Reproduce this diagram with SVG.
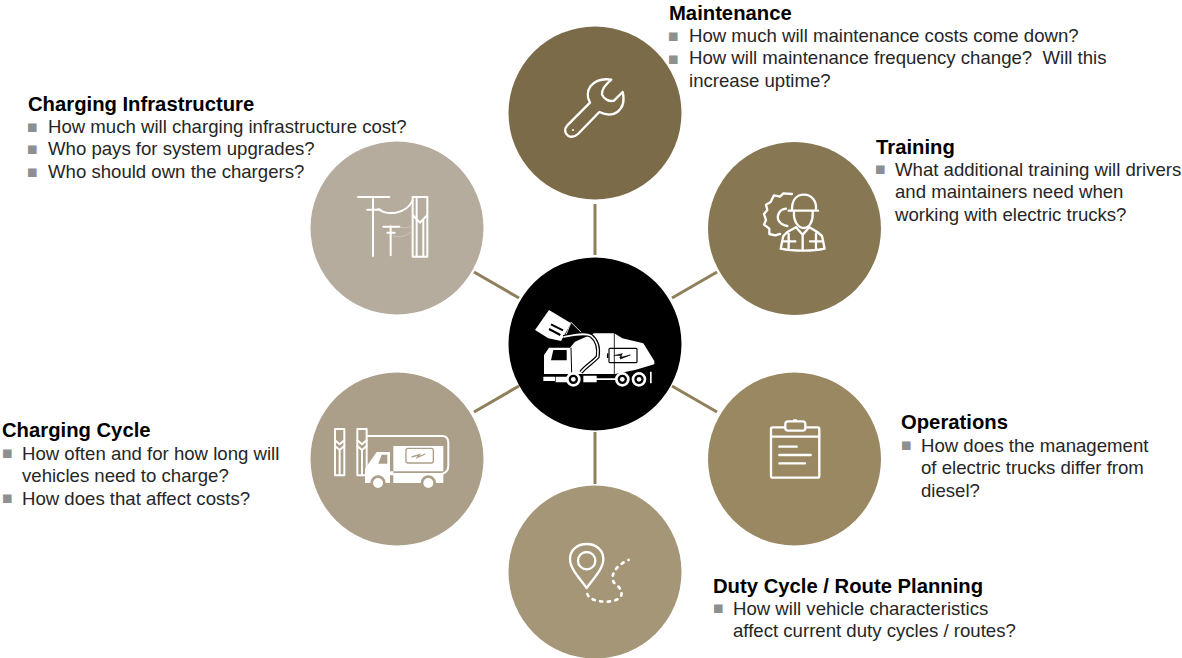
<svg xmlns="http://www.w3.org/2000/svg" width="1182" height="658" viewBox="0 0 1182 658">
<style>
text{font-family:"Liberation Sans",Arial,sans-serif;font-size:18.6px;fill:#262626;white-space:pre}
.h{font-weight:700;font-size:20.25px;fill:#000}
.b{font-size:17.5px;fill:#8c9090}
.i{fill:none;stroke:#fff;stroke-width:7;stroke-linecap:round;stroke-linejoin:round}
.t{stroke-width:6}
.f{fill:#fff}
#connectors line{stroke:#8f7f5a;stroke-width:3}
</style>
<rect width="1182" height="658" fill="#fff"/>
<g id="connectors">
<line x1="595" y1="204" x2="595" y2="255"/>
<line x1="595" y1="432" x2="595" y2="484"/>
<line x1="474" y1="272" x2="519" y2="298"/>
<line x1="717" y1="272" x2="672" y2="298"/>
<line x1="474" y1="412" x2="519" y2="386"/>
<line x1="717" y1="412" x2="672" y2="386"/>
</g>
<g id="hub">
<circle cx="595" cy="344" r="86.5" fill="#000"/>
<g transform="translate(535 305) scale(.3333)">
<path class="f" d="M42 15L108 55 78 108 40 100 0 75Z"/>
<path d="M48 58L84 76M42 72L76 90" stroke="#000" stroke-width="6"/>
<path d="M108 52L145 88M108 52L92 92" fill="none" stroke="#ddd" stroke-width="3"/>
<path class="f" d="M27 205V150L42 128H105L120 110 178 85H238L262 100 325 115 358 168V178L300 195 240 207H27Z"/>
<path d="M55 135H95V166H48Z" fill="#000"/>
<path d="M108 128L110 205" stroke="#000" stroke-width="3"/>
<path d="M85 96C115 90 150 82 168 92 186 106 192 130 188 156 170 175 150 185 138 202" fill="none" stroke="#000" stroke-width="12"/>
<path d="M85 96C115 90 150 82 168 92 186 106 192 130 188 156 170 175 150 185 138 202" fill="none" stroke="#fff" stroke-width="5"/>
<path d="M238 82V207" stroke="#000" stroke-width="2.5"/>
<rect x="222" y="130" width="84" height="43" rx="3" fill="none" stroke="#000" stroke-width="3.5"/>
<path d="M218 145V159" stroke="#000" stroke-width="4"/>
<path d="M236 152L262 146 254 158 286 150 256 162 260 152" fill="#000" stroke="#000" stroke-width="2"/>
<path class="f" d="M25 215H60V228H25ZM62 215H100V232H62ZM145 212H185V232H145ZM185 220H245V225H185ZM345 200H350V235H345Z"/>
<g fill="#000" stroke="#fff" stroke-width="8"><circle cx="115" cy="223" r="18"/><circle cx="262" cy="223" r="18"/><circle cx="312" cy="223" r="18"/></g>
<g class="f"><circle cx="115" cy="223" r="7"/><circle cx="262" cy="223" r="7"/><circle cx="312" cy="223" r="7"/></g>
</g>
</g>
<g id="maintenance">
<circle cx="595" cy="113" r="86.5" fill="#7b6b49"/>
<path transform="translate(540 70) scale(.3333)" class="i" d="M214 29C190 25 168 30 152 48 140 64 142 84 150 98L82 166C72 178 74 190 84 197 94 203 104 201 114 192L178 126C195 134 216 138 232 126 250 112 254 90 248 66L222 92C208 96 192 88 186 74 184 62 196 44 214 29Z"/>
<circle cx="573" cy="130" r="1" fill="#fff"/>
<text class="h" x="669" y="20">Maintenance</text>
<text class="b" x="668" y="42">■</text><text x="689" y="42">How much will maintenance costs come down?</text>
<text class="b" x="668" y="65">■</text><text x="689" y="64">How will maintenance frequency change?  Will this</text>
<text x="689" y="87">increase uptime?</text>
</g>
<g id="training">
<circle cx="794.5" cy="228.5" r="86.5" fill="#877753"/>
<g transform="translate(730 170) scale(.3333)" class="i">
<path d="M186 72L160 70 150 80 132 76 122 96 108 104 112 120 102 132 108 150 102 164 118 176 118 192 136 196 150 192"/>
<path d="M168 116C148 118 140 136 145 150 150 160 158 166 172 168"/>
<path d="M176 122H264M186 118C186 90 200 74 222 74 246 74 260 94 258 118"/>
<path d="M192 126C190 150 202 174 222 174 240 174 250 150 248 126"/>
<path d="M198 172L172 186 160 198 152 236C190 244 250 244 284 236L276 198 262 186 238 172M198 172L218 194 238 172M218 194V240M176 192V236M258 190V236M156 214H196M240 214H280"/>
</g>
<text class="h" x="876" y="154">Training</text>
<text class="b" x="875" y="175">■</text><text x="895" y="176">What additional training will drivers</text>
<text x="895" y="198">and maintainers need when</text>
<text x="895" y="221">working with electric trucks?</text>
</g>
<g id="operations">
<circle cx="794.5" cy="459" r="86.5" fill="#998862"/>
<g transform="translate(750 410) scale(.3333)" class="i">
<rect x="63" y="52" width="145" height="151" rx="5"/>
<rect x="106" y="34" width="60" height="28" rx="8" fill="#998862"/>
<path d="M132 31H138M64 80H206M88 110H140M88 135H182M88 160H165"/>
</g>
<text class="h" x="901" y="429">Operations</text>
<text class="b" x="901" y="451">■</text><text x="921" y="452">How does the management</text>
<text x="921" y="474">of electric trucks differ from</text>
<text x="921" y="497">diesel?</text>
</g>
<g id="duty">
<circle cx="595" cy="572" r="86.5" fill="#a49676"/>
<g transform="translate(550 530) scale(.3333)" class="i">
<path d="M110 174C90 146 60 116 60 88 60 60 82 42 110 42 138 42 160 60 160 88 160 116 130 146 110 174Z"/>
<circle cx="110" cy="92" r="26"/>
<path stroke-dasharray="7 16" stroke-width="8" d="M112 192C118 216 180 222 206 206 226 190 208 170 192 158 178 136 200 104 236 90"/>
</g>
<text class="h" x="713" y="593">Duty Cycle / Route Planning</text>
<text class="b" x="713" y="614">■</text><text x="733" y="615">How will vehicle characteristics</text>
<text x="733" y="637">affect current duty cycles / routes?</text>
</g>
<g id="charging-cycle">
<circle cx="397" cy="459" r="86.5" fill="#ac9f8a"/>
<g transform="translate(310 372) scale(.3333)">
<g class="i t">
<path d="M75 171H103V310H75ZM142 171H170V310H142Z"/>
<path d="M75 205L89 217 103 205M75 222L89 234 103 222M142 205L156 217 170 205M142 222L156 234 170 222M89 234V310M156 234V310"/>
<path d="M170 192H396C408 192 415 200 415 212V280C415 295 408 302 400 304"/>
</g>
<path class="f" d="M165 290L200 240H240V298H250V222H400V298H250V303H400V333H250V310H240V333H165Z"/>
<path d="M205 275L215 248H232V275Z" fill="#ac9f8a"/>
<rect x="288" y="229" width="82" height="44" rx="6" fill="none" stroke="#ac9f8a" stroke-width="4"/>
<path d="M305 255L328 248 322 256 346 246" fill="none" stroke="#ac9f8a" stroke-width="4"/>
<circle cx="204" cy="333" r="19" class="f" stroke="#ac9f8a" stroke-width="8"/><circle cx="355" cy="333" r="19" class="f" stroke="#ac9f8a" stroke-width="8"/>
</g>
<text class="h" x="2" y="437">Charging Cycle</text>
<text class="b" x="2" y="459">■</text><text x="22" y="460">How often and for how long will</text>
<text x="22" y="482">vehicles need to charge?</text>
<text class="b" x="2" y="504">■</text><text x="22" y="505">How does that affect costs?</text>
</g>
<g id="charging-infrastructure">
<circle cx="397" cy="228" r="86.5" fill="#b5ac9d"/>
<g transform="translate(310 140) scale(.3333)">
<g class="i t">
<path d="M144 171H238M189 171V348M172 209H212M242 259V346M220 260H268M232 278H254M308 171H352V350H308ZM320 171V350M340 240V350"/>
<path d="M205 207C230 226 285 226 308 182"/>
<path d="M308 225L330 248 352 225"/>
</g>
<path d="M268 262C285 266 295 262 308 258M250 288C275 294 295 285 308 272" fill="none" stroke="#d6d0c6" stroke-width="2"/>
</g>
<text class="h" x="28" y="111">Charging Infrastructure</text>
<text class="b" x="27" y="133">■</text><text x="48" y="133">How much will charging infrastructure cost?</text>
<text class="b" x="27" y="155">■</text><text x="48" y="155">Who pays for system upgrades?</text>
<text class="b" x="27" y="178">■</text><text x="48" y="178">Who should own the chargers?</text>
</g>
</svg>
